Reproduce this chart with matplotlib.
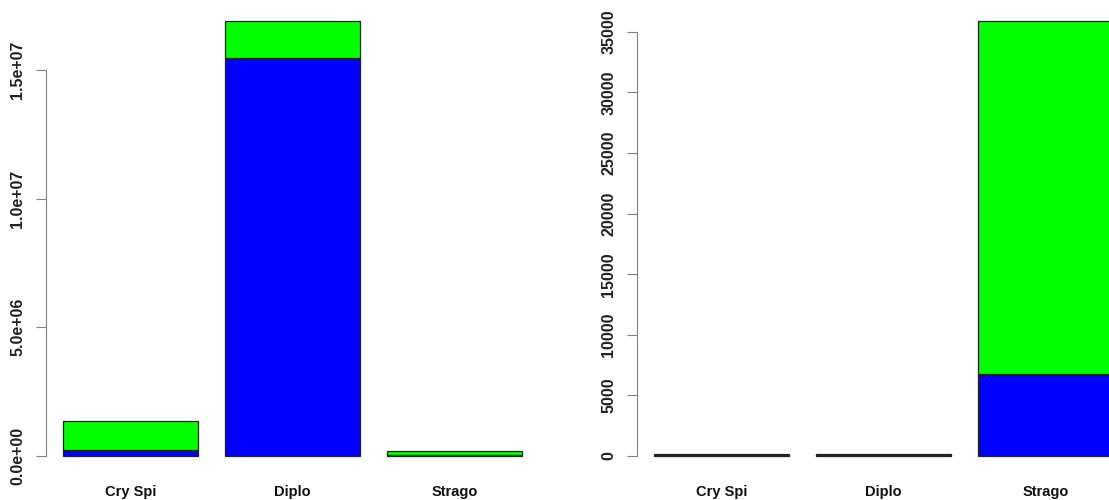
import numpy as np
import matplotlib.pyplot as plt

plt.rcParams['font.family'] = ['Liberation Sans', 'DejaVu Sans']

groups = ["Cry Spi", "Diplo", "Strago"]
# left panel
left_blue = [2.3e5, 1.547e7, 2.0e4]
left_green = [1.13e6, 1.43e6, 1.7e5]
# right panel
right_blue = [60, 60, 6770]
right_green = [90, 90, 29130]

W, H = 1109, 500
fig = plt.figure(figsize=(W / 100, H / 100), dpi=100)


def panel(x0, blue, green, ticks, labels):
    total = np.array(blue) + np.array(green)
    top = total.max()
    # plot region from pixel positions (R-style 4% padding)
    xlo, xhi = 0.074, 3.736
    width_px = (xhi - xlo) * 135
    ax = fig.add_axes([x0 / W, (H - 473.4) / H, width_px / W, 469.8 / H])
    xs = np.array([0.7, 1.9, 3.1])
    ax.bar(xs, blue, width=1.0, color="#0000ff", edgecolor="#222222", linewidth=0.9)
    ax.bar(xs, green, width=1.0, bottom=blue, color="#00ff00", edgecolor="#222222", linewidth=0.9)
    ax.set_xlim(xlo, xhi)
    ax.set_ylim(-0.04 * top, 1.04 * top)
    for s in ["top", "right", "bottom"]:
        ax.spines[s].set_visible(False)
    ax.spines["left"].set_bounds(ticks[0], ticks[-1])
    ax.spines["left"].set_color("#808080")
    ax.set_yticks(ticks)
    ax.set_yticklabels(labels, rotation=90, va="center", fontsize=11.5, fontweight="bold", color="#222222")
    ax.tick_params(axis="y", length=7, color="#808080", pad=8)
    ax.set_xticks(xs)
    ax.set_xticklabels(groups, fontsize=10.5, fontweight="bold", color="#111111")
    ax.tick_params(axis="x", length=0, pad=8)
    return ax


panel(46, left_blue, left_green, [0, 5e6, 1e7, 1.5e7],
      ["0.0e+00", "5.0e+06", "1.0e+07", "1.5e+07"])
rt = list(range(0, 35001, 5000))
panel(637, right_blue, right_green, rt, [str(t) for t in rt])

fig.savefig("out.png", dpi=100)
